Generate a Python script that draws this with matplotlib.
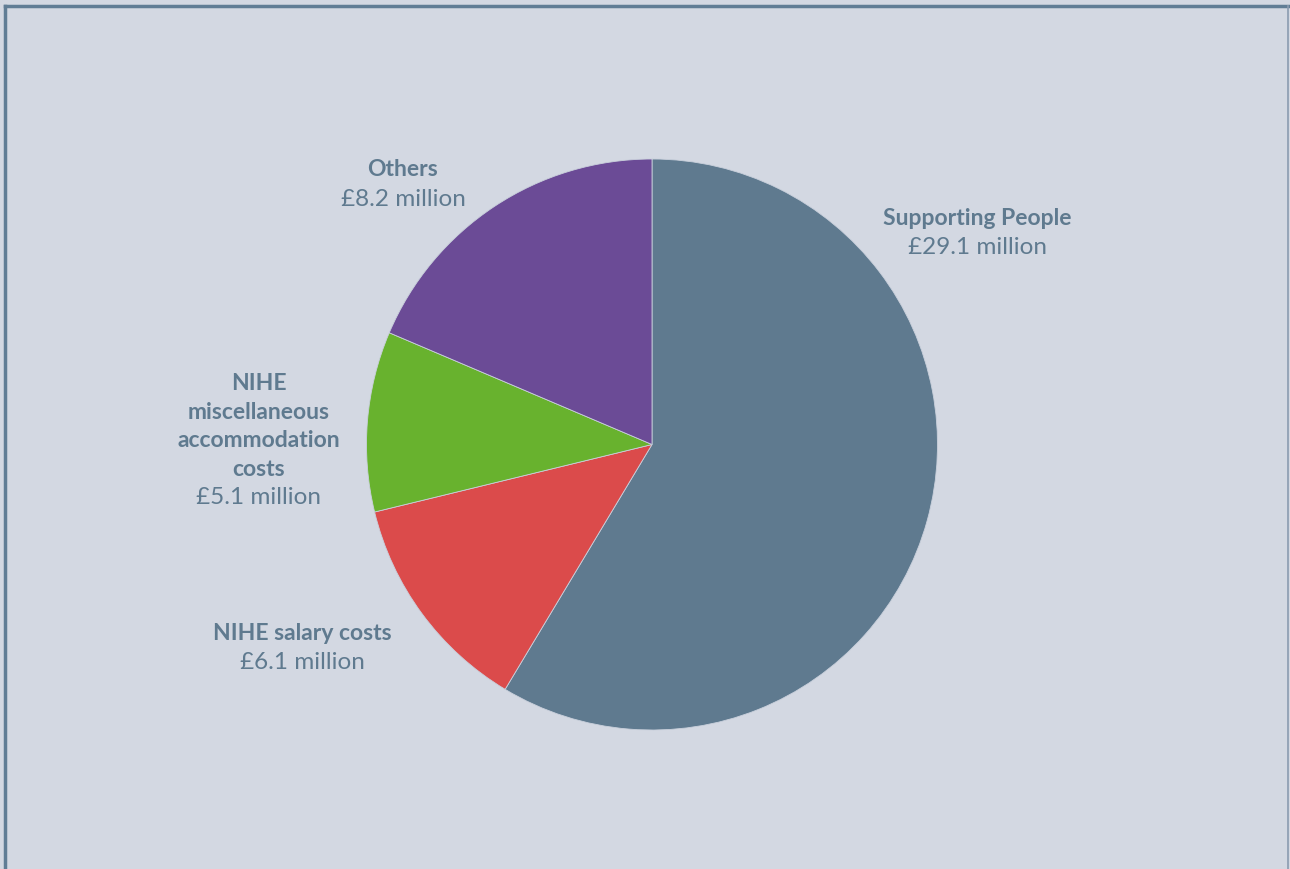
import matplotlib.pyplot as plt
from matplotlib.lines import Line2D

labels = ["Supporting People", "NIHE salary costs",
          "NIHE\nmiscellaneous\naccommodation\ncosts", "Others"]
amounts = ["29.1", "6.1", "5.1", "8.2"]
# wedge shares (%) as drawn in the picture
shares = [58.6, 12.6, 10.2, 18.6]
colors = ["#5f7a8f", "#db4b4b", "#68b22e", "#6b4b96"]

W, H = 1290, 870
bg = "#d3d8e2"
txt = "#5f7a8f"

fig = plt.figure(figsize=(W / 100, H / 100), dpi=100, facecolor=bg)

# pie axes: centre (652, 445) px, radius 285 px
cx, cy, r = 652, 445.5, 285.5
ax = fig.add_axes([(cx - r) / W, (H - cy - r) / H, 2 * r / W, 2 * r / H])
ax.set_facecolor(bg)
ax.pie(shares, colors=colors, startangle=90, counterclock=False, radius=1,
       wedgeprops=dict(edgecolor="#c9d0dc", linewidth=0.6))
ax.set_xlim(-1, 1)
ax.set_ylim(-1, 1)
ax.set_aspect("equal")
ax.axis("off")

# frame
fig.add_artist(Line2D([5 / W, 1288 / W], [1 - 7 / H, 1 - 7 / H], transform=fig.transFigure,
                      color="#607d95", linewidth=2.5))
fig.add_artist(Line2D([5 / W, 5 / W], [0, 1 - 7 / H], transform=fig.transFigure,
                      color="#607d95", linewidth=2.5))
fig.add_artist(Line2D([1288 / W, 1288 / W], [0, 1 - 7 / H], transform=fig.transFigure,
                      color="#8a9bb0", linewidth=1.2))

font = "Lato"

def label(x, y_top, name, value, step=29):
    lines = name.split("\n")
    for i, ln in enumerate(lines):
        fig.text(x / W, 1 - (y_top + i * step) / H, ln, ha="center", va="center",
                 fontsize=16.5, fontweight="bold", color=txt, family=font)
    fig.text(x / W, 1 - (y_top + len(lines) * step) / H, "£" + value + " million",
             ha="center", va="center", fontsize=17.5, fontweight="normal",
             color=txt, family=font)

label(977, 219, labels[0], amounts[0])
label(302, 634, labels[1], amounts[1])
label(259, 384, labels[2], amounts[2], step=28.5)
label(403, 170, labels[3], amounts[3])

fig.savefig("out.png", dpi=100, facecolor=bg)
